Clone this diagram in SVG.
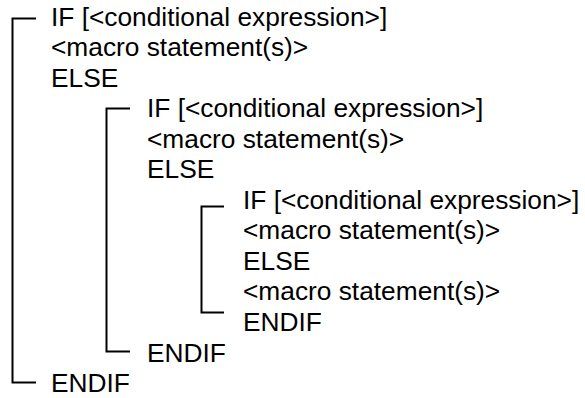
<svg xmlns="http://www.w3.org/2000/svg" width="585" height="398" viewBox="0 0 585 398">
<style>
.t{font-family:"Liberation Sans",Arial,sans-serif;font-size:26.3px;fill:#000}
.b{fill:none;stroke:#000;stroke-width:2}
</style>
<rect width="585" height="398" fill="#fff"/>
<g id="connectors">
<polyline class="b" points="36,18.5 12.5,18.5 12.5,382.5 36,382.5"/>
<polyline class="b" points="130,108.5 106.5,108.5 106.5,351.5 130,351.5"/>
<polyline class="b" points="224,206.5 201.5,206.5 201.5,312.5 224,312.5"/>
</g>
<g id="level1">
<text class="t" x="51" y="25.5">IF [&lt;conditional expression&gt;]</text>
<text class="t" x="51" y="56">&lt;macro statement(s)&gt;</text>
<text class="t" x="51" y="86.6">ELSE</text>
<text class="t" x="51" y="392">ENDIF</text>
</g>
<g id="level2">
<text class="t" x="147" y="117.1">IF [&lt;conditional expression&gt;]</text>
<text class="t" x="147" y="147.7">&lt;macro statement(s)&gt;</text>
<text class="t" x="147" y="178.2">ELSE</text>
<text class="t" x="147" y="361.5">ENDIF</text>
</g>
<g id="level3">
<text class="t" x="243" y="208.8">IF [&lt;conditional expression&gt;]</text>
<text class="t" x="243" y="239.3">&lt;macro statement(s)&gt;</text>
<text class="t" x="243" y="269.9">ELSE</text>
<text class="t" x="243" y="300.4">&lt;macro statement(s)&gt;</text>
<text class="t" x="243" y="330.9">ENDIF</text>
</g>
</svg>
